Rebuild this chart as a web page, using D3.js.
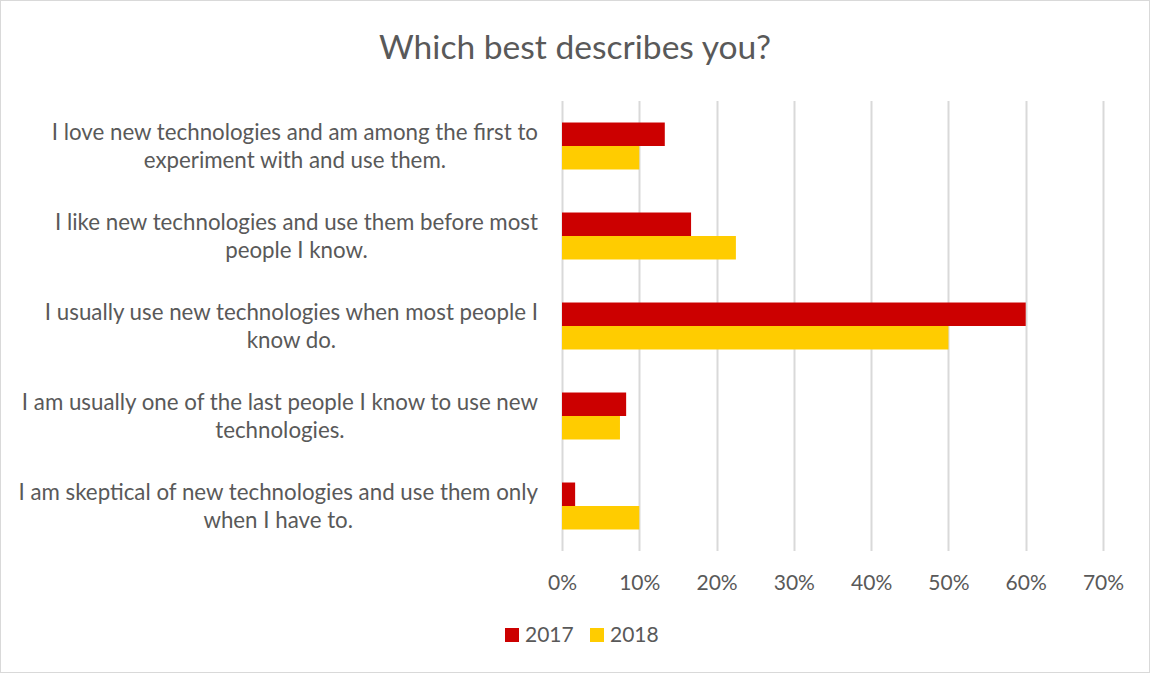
<!DOCTYPE html>
<html><head><meta charset="utf-8">
<script src="https://cdn.jsdelivr.net/npm/d3@7"></script>
<style>
body{margin:0;background:#fff;}
svg text{font-family:Lato,"Open Sans",sans-serif;fill:#595959;}
</style></head>
<body>
<svg id="chart" width="1150" height="673"></svg>
<script>
const categories = [
  "I love new technologies and am among the first to\nexperiment with and use them.",
  "I like new technologies and use them before most\npeople I know.",
  "I usually use new technologies when most people I\nknow do.",
  "I am usually one of the last people I know to use new\ntechnologies.",
  "I am skeptical of new technologies and use them only\nwhen I have to."
];
const seriesNames = ["2017", "2018"];
const values2017 = [0.133, 0.167, 0.60, 0.083, 0.017];
const values2018 = [0.10, 0.225, 0.50, 0.075, 0.10];
const colors = ["#CC0000", "#FFCC00"];
const tickValues = [0, 0.1, 0.2, 0.3, 0.4, 0.5, 0.6, 0.7];

const svg = d3.select("#chart");
svg.append("rect").attr("x",0.5).attr("y",0.5).attr("width",1149).attr("height",672)
  .attr("fill","#fff").attr("stroke","#d9d9d9");

const mLeft = 562, mRight = 1103, mTop = 101, mBottom = 551;
const x = d3.scaleLinear().domain([0, 0.7]).range([mLeft, mRight]);
const y = d3.scaleBand().domain(d3.range(categories.length)).range([mTop, mBottom]).paddingInner(0.478).paddingOuter(0.239);
const sub = d3.scaleBand().domain(seriesNames).range([0, y.bandwidth()]);

// title
svg.append("text").attr("x", 575).attr("y", 59).attr("text-anchor","middle")
  .style("font-size","33.6px").text("Which best describes you?");

// gridlines
svg.append("g").selectAll("line").data(tickValues).join("line")
  .attr("x1", d=>Math.round(x(d))+0.5).attr("x2", d=>Math.round(x(d))+0.5)
  .attr("y1", mTop).attr("y2", mBottom)
  .attr("stroke","#d9d9d9").attr("stroke-width",2);

// bars
const data = categories.map((c,i)=>({i, vals:[values2017[i], values2018[i]]}));
const groups = svg.append("g").selectAll("g").data(data).join("g")
  .attr("transform", d=>`translate(0,${y(d.i)})`);
groups.selectAll("rect").data(d=>d.vals.map((v,k)=>({v,k}))).join("rect")
  .attr("x", x(0)).attr("y", d=>sub(seriesNames[d.k]))
  .attr("width", d=>x(d.v)-x(0)).attr("height", sub.bandwidth())
  .attr("fill", d=>colors[d.k]);

// x axis labels
const xAxis = d3.axisBottom(x).tickValues(tickValues).tickFormat(d3.format(".0%")).tickSize(0).tickPadding(0);
const gx = svg.append("g").attr("transform",`translate(0,${mBottom+39})`).call(xAxis);
gx.select(".domain").remove();
gx.selectAll("text").attr("dy", null).style("font-size","21px").style("font-family","Lato,'Open Sans',sans-serif").attr("fill","#595959");

// category labels: block right-aligned at 538, lines centered within block
categories.forEach((c,i)=>{
  const lines = c.split("\n");
  const cy = y(i) + y.bandwidth()/2;
  const g = svg.append("g");
  const ts = lines.map((ln,j)=> g.append("text").attr("text-anchor","middle").style("font-size","22.3px")
      .attr("y", cy + (j - (lines.length-1)/2)*28 + 8).text(ln));
  const maxW = d3.max(ts, t=>t.node().getComputedTextLength());
  ts.forEach(t=>t.attr("x", 538 - maxW/2));
});

// legend
const lg = svg.append("g");
const legendX = [505, 590];
seriesNames.forEach((s,k)=>{
  lg.append("rect").attr("x", legendX[k]).attr("y", 628).attr("width", 14).attr("height", 14).attr("fill", colors[k]);
  lg.append("text").attr("x", legendX[k]+20).attr("y", 642).style("font-size","21px").text(s);
});
</script>
</body></html>
